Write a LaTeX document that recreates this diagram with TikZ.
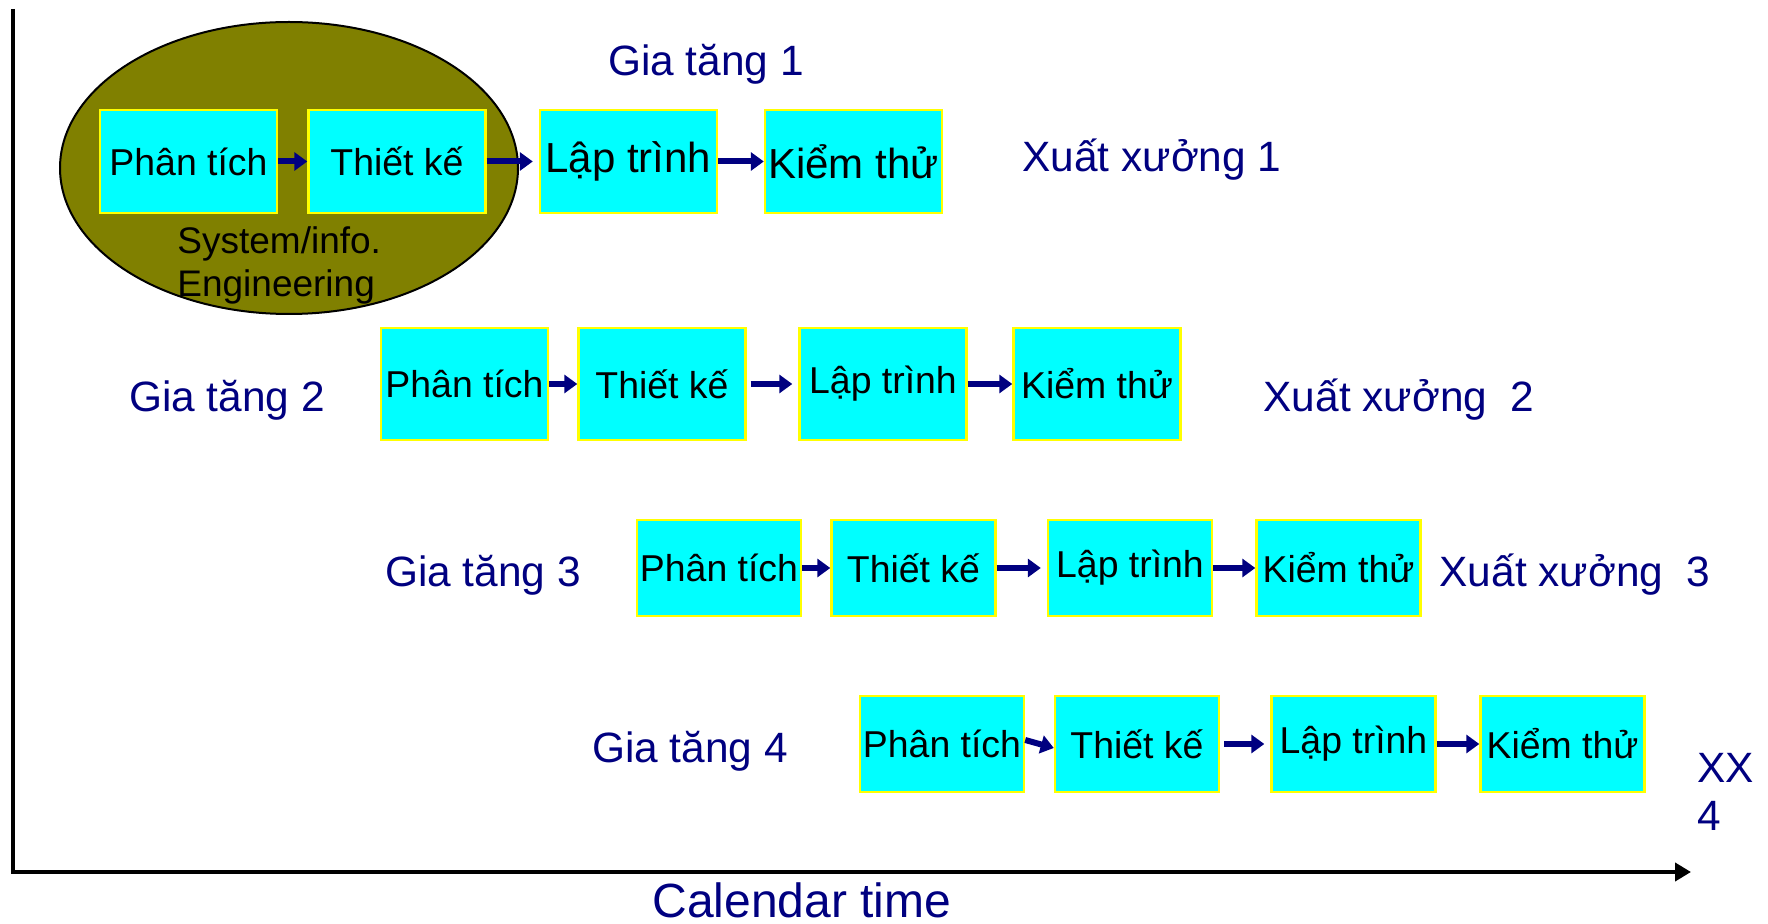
\documentclass[tikz,border=0pt]{standalone}
\usepackage{fontspec}
\setmainfont{Liberation Sans}
\usetikzlibrary{arrows.meta,shapes.geometric}
\definecolor{navy}{RGB}{0,0,128}
\definecolor{aqua}{RGB}{0,255,255}
\definecolor{lemon}{RGB}{255,255,0}
\definecolor{swamp}{RGB}{128,128,0}
\begin{document}
\begin{tikzpicture}[x=.5pt,y=-.5pt,
  phase/.style={draw=lemon,fill=aqua,line width=1.2pt,inner sep=0pt,
    minimum width=82pt,minimum height=48pt,font=\fontsize{18.7}{20}\selectfont},
  label/.style={text=navy,inner sep=0pt,font=\fontsize{21.2}{24}\selectfont},
  go/.style={draw=navy,line width=3pt,-{Triangle[length=6.5pt,width=9pt]}}]
  \useasboundingbox (0,0) rectangle (1768,924);
  % time axes
  \coordinate (top) at (13,9);
  \coordinate (origin) at (13,872);
  \coordinate (tip) at (1691,872);
  \draw[line width=2.25pt,-{Triangle[length=8pt,width=9pt]}] (top) -- (origin) -- (tip);
  \node[text=navy,inner sep=0pt,anchor=base,font=\fontsize{24}{26}\selectfont] (cal) at (802,917) {Calendar time};
  % increment 1, first half inside the ellipse
  \node[draw=black,fill=swamp,line width=1pt,ellipse,minimum width=229pt,minimum height=146pt,
    inner sep=0pt] (sys) at (289,168) {};
  \node[align=left,anchor=west,inner sep=0pt,font=\fontsize{18.5}{21.5}\selectfont] (syslbl) at (177,265)
  {System/info.\\Engineering};
  \node[phase,minimum width=88.5pt,minimum height=51.5pt] (p1) at (188.5,161.5) {Phân tích};
  \node[phase,minimum width=88.5pt,minimum height=51.5pt] (t1) at (397,161.5) {Thiết kế};
  \node[phase,minimum width=88.5pt,minimum height=51.5pt,font=\fontsize{21}{23}\selectfont] (l1) at (628.5,161.5) {Lập trình};
  \node[phase,minimum width=88.5pt,minimum height=51.5pt,font=\fontsize{21}{23}\selectfont] (k1) at (853.5,161.5) {Kiểm thử};
  \draw[go] (p1) -- (t1);
  \draw[go,shorten >=3pt] (t1) -- (l1);
  \draw[go] (l1) -- (k1);
  \node[label] (g1) at (706,64) {Gia tăng 1};
  \node[label] (x1) at (1152,160) {Xuất xưởng 1};
  % increment 2
  \node[phase,minimum width=83.5pt,minimum height=56pt] (p2) at (464.5,384) {Phân tích};
  \node[phase,minimum width=83.5pt,minimum height=56pt] (t2) at (662,384) {Thiết kế};
  \node[phase,minimum width=83.5pt,minimum height=56pt] (l2) at (883,384) {Lập trình};
  \node[phase,minimum width=83.5pt,minimum height=56pt] (k2) at (1097,384) {Kiểm thử};
  \draw[go] (p2) -- (t2);
  \draw[go,shorten <=2pt,shorten >=3pt] (t2) -- (l2);
  \draw[go] (l2) -- (k2);
  \node[label] (g2) at (227,400) {Gia tăng 2};
  \node[label] (x2) at (1399,400) {Xuất xưởng~~2};
  % increment 3
  \node[phase] (p3) at (719,568) {Phân tích};
  \node[phase] (t3) at (913.5,568) {Thiết kế};
  \node[phase] (l3) at (1130,568) {Lập trình};
  \node[phase] (k3) at (1338.5,568) {Kiểm thử};
  \draw[go] (p3) -- (t3);
  \draw[go,shorten >=3pt] (t3) -- (l3);
  \draw[go] (l3) -- (k3);
  \node[label] (g3) at (483,575) {Gia tăng 3};
  \node[label] (x3) at (1575,575) {Xuất xưởng~~3};
  % increment 4
  \node[phase] (p4) at (942,744) {Phân tích};
  \node[phase] (t4) at (1137,744) {Thiết kế};
  \node[phase] (l4) at (1353.5,744) {Lập trình};
  \node[phase] (k4) at (1562.5,744) {Kiểm thử};
  \draw[go] ([yshift=2pt]p4.east) -- ([yshift=-2pt]t4.west);
  \draw[go,shorten <=2pt,shorten >=3pt] (t4) -- (l4);
  \draw[go] (l4) -- (k4);
  \node[label] (g4) at (690,751) {Gia tăng 4};
  \node[label,align=left,anchor=west] (x4) at (1697,792) {XX\\4};
\end{tikzpicture}
\end{document}
